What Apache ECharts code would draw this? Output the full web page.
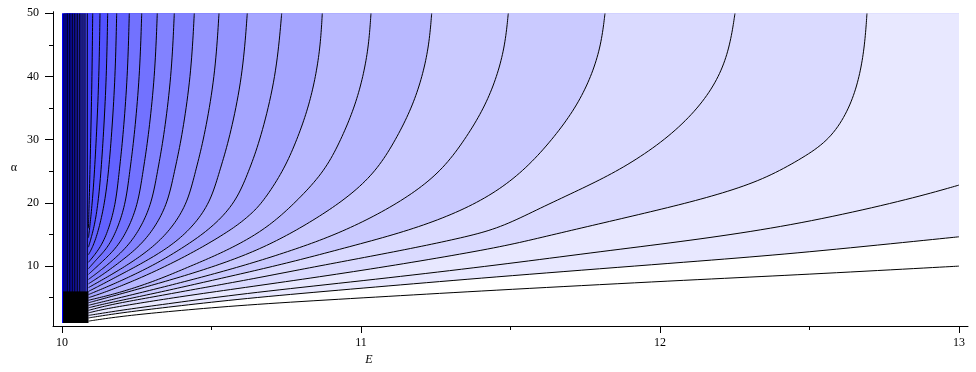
<!DOCTYPE html>
<html><head><meta charset="utf-8">
<script src="https://cdn.jsdelivr.net/npm/echarts@6/dist/echarts.min.js"></script>
<style>html,body{margin:0;padding:0;background:#fff}#c{width:976px;height:372px}</style>
</head><body><div id="c"></div>
<script>
// ---- tick labels ----
const xTicks = [10, 11, 12, 13];
const yTicks = [10, 20, 30, 40, 50];
const yMinorTicks = [5, 15, 25, 35, 45];

// ---- contour lines: [E, alpha] ----
// nearly vertical contours hugging E = 10 (E where they meet the top edge)
const stripTops = [10.0067, 10.0134, 10.0191, 10.0244, 10.0301, 10.0358, 10.0411,
                   10.0468, 10.0525, 10.0579, 10.0635, 10.0702, 10.0769, 10.0846];
const c15 = [[10.1027,50],[10.1005,40],[10.0960,30],[10.0920,22],[10.0886,16]];
const c16 = [[10.1271,50],[10.1239,40],[10.1148,30],[10.1050,22],[10.0950,17],[10.0886,14.5]];
const c17 = [[10.1528,50],[10.1490,40],[10.1380,30],[10.1260,22],[10.1120,17],[10.0960,14.2],[10.0886,13]];
const c18 = [[10.1829,50],[10.1783,40],[10.1652,30],[10.1500,22],[10.1300,17],[10.1080,13.5],[10.0886,11.8]];
const c19 = [[10.2251,50],[10.2195,40],[10.2033,30],[10.1913,25],[10.1801,20],[10.1576,16],[10.1306,13],[10.0886,10.6]];
const c20 = [[10.2666,50],[10.2600,40],[10.2407,30],[10.2266,25],[10.2133,20],[10.1866,16],[10.1546,13],[10.1180,11.2],[10.0886,9.6]];
const c21 = [[10.3187,50],[10.3107,40],[10.2878,30],[10.2709,25],[10.2550,20],[10.2231,16],[10.1848,13],[10.1350,10.7],[10.0886,8.7]];
const c22 = [[10.3756,50],[10.3662,40],[10.3392,30],[10.3193,25],[10.3005,20],[10.2629,16],[10.2178,13],[10.1600,10.5],[10.1200,9],[10.0886,7.9]];
const c23 = [[10.4425,50],[10.4314,40],[10.3996,30],[10.3761,25],[10.3540,20],[10.3098,16],[10.2567,13],[10.1900,10.5],[10.1350,8.6],[10.0886,7.2]];
const c24 = [[10.5251,50],[10.5120,40],[10.4742,30],[10.4463,25],[10.4201,20],[10.3676,16],[10.3046,13],[10.2300,10.5],[10.1600,8.5],[10.0886,6.6]];
const c25 = [[10.6197,50],[10.6042,40],[10.5596,30],[10.5267,25],[10.4958,20],[10.4338,16],[10.3594,13],[10.2700,10.5],[10.1900,8.5],[10.1300,7],[10.0886,6.0]];
const cA = [[10.7348,50],[10.7164,40],[10.6635,30],[10.6246,25],[10.5805,20],[10.4997,16],[10.4078,13],[10.3200,10.5],[10.2350,8.5],[10.1650,7],[10.0886,5.5]];
const cB = [[10.8706,50],[10.8645,45],[10.8488,40],[10.8236,35],[10.7862,30],[10.7400,25],[10.6700,20],[10.6288,18.08],[10.5746,16],[10.4701,13],[10.3700,10.5],[10.2800,8.5],[10.2050,7],[10.1400,5.8],[10.0886,5.0]];
const cC = [[11.0334,50],[11.0262,45],[11.0076,40],[10.9776,35],[10.9332,30],[10.8784,25],[10.7900,20.5],[10.7100,17],[10.6288,14.39],[10.5300,12],[10.4300,10],[10.3300,8],[10.2400,6.5],[10.1600,5.4],[10.0886,4.6]];
const cD = [[11.2365,50],[11.2278,45],[11.2056,40],[11.1697,35],[11.1166,30],[11.0510,25],[10.9600,21],[10.8500,17.5],[10.7400,14.5],[10.6288,12.01],[10.5000,9.8],[10.3700,7.9],[10.2500,6.3],[10.1500,5.0],[10.0886,4.2]];
const cE = [[11.4926,50],[11.4821,45],[11.4553,40],[11.4120,35],[11.3478,30],[11.2687,25],[11.1600,21],[11.0300,17.5],[10.9000,14.7],[10.7700,12.5],[10.6288,10.37],[10.4800,8.4],[10.3400,6.7],[10.2200,5.3],[10.1400,4.4],[10.0886,3.8]];
const cF = [[11.8161,50],[11.8034,45],[11.7707,40],[11.7180,35],[11.6399,30],[11.5437,25],[11.4300,21],[11.2900,17.8],[11.1300,15.2],[10.9400,12.8],[10.7800,10.8],[10.6288,9.1],[10.4700,7.4],[10.3300,5.9],[10.2100,4.7],[10.1300,3.9],[10.0886,3.4]];
const cG = [[12.2508,50],[12.2350,45],[12.2000,40],[12.1300,35],[12.0200,30],[11.8773,25.5],[11.7435,22.35],[11.5987,19.18],[11.4649,16.02],[11.3400,14.5],[11.1700,12.8],[10.9700,11.0],[10.7900,9.4],[10.6288,7.9],[10.4400,6.3],[10.2900,5.0],[10.1600,3.9],[10.0886,3.0]];
const cH = [[12.6923,50],[12.6850,45],[12.6680,40],[12.6350,35],[12.5700,30],[12.4682,26.83],[12.3344,23.41],[12.1562,20.77],[11.9700,18.6],[11.7700,16.4],[11.6000,14.5],[11.4649,13.0],[11.2000,10.8],[10.9200,8.7],[10.6288,6.73],[10.4000,5.2],[10.2400,4.0],[10.1400,3.2],[10.0886,2.6]];
const cR1 = [[13,22.82],[12.8251,20.45],[12.4682,16.65],[12.1338,14.23],[11.8000,12.3],[11.4649,10.21],[11.0500,7.9],[10.6288,5.78],[10.3612,4.1],[10.1940,3.0],[10.0886,2.2]];
const cR2 = [[13,14.64],[12.4682,12.06],[12.1338,10.8],[11.4649,8.37],[11.0500,6.7],[10.6288,4.99],[10.3612,3.55],[10.1940,2.6],[10.0886,1.8]];
const cR3 = [[13,10.0],[12.4682,8.63],[12.1338,7.9],[11.4649,6.25],[11.0500,5.1],[10.6288,3.94],[10.3612,2.85],[10.1940,2.05],[10.0886,1.3]];
// solid black cluster of contours at the bottom-left corner
const denseBlock = [[10.0037,6.0],[10.0886,6.0],[10.0886,1],[10.0037,1]];

// ---- styles ----
const shade = [0, 6,6, 14,14, 24,24, 34,34, 46,46, 56,56, 68,68, 82,82, 98,98, 114,114,
               130,130, 148,148, 165,165, 184,184, 202,202, 218,218, 232,232, 255,255];
const bandColor = k => 'rgb(' + shade[k] + ',' + shade[k] + ',255)';

const X0 = 10, X1 = 13, Y0 = 1, Y1 = 50;
const curved = [c15,c16,c17,c18,c19,c20,c21,c22,c23,c24,c25,cA,cB,cC,cD,cE,cF,cG,cH,cR1,cR2,cR3];
const contours = stripTops.map(e => [[e, Y1], [e, Y0]]).concat(curved);

// rendering helper: smooth (clamped cubic B-spline) drawing path through the pixel points
function smoothPath(px) {
  if (px.length < 3) return px.slice();
  const n = px.length;
  const P = [px[0], px[0]].concat(px, [px[n - 1], px[n - 1]]);
  const out = [];
  const N = 10;
  for (let i = 0; i + 3 < P.length; i++) {
    for (let j = (i === 0 ? 0 : 1); j <= N; j++) {
      const t = j / N, t2 = t * t, t3 = t2 * t;
      const b0 = (1 - t) * (1 - t) * (1 - t) / 6;
      const b1 = (3 * t3 - 6 * t2 + 4) / 6;
      const b2 = (-3 * t3 + 3 * t2 + 3 * t + 1) / 6;
      const b3 = t3 / 6;
      out.push([
        b0 * P[i][0] + b1 * P[i + 1][0] + b2 * P[i + 2][0] + b3 * P[i + 3][0],
        b0 * P[i][1] + b1 * P[i + 1][1] + b2 * P[i + 2][1] + b3 * P[i + 3][1]
      ]);
    }
  }
  return out;
}
function closing(c) {
  const out = [];
  const last = c[c.length - 1];
  if (last[1] > Y0) out.push([last[0], Y0]);
  out.push([X1, Y0]);
  if (c[0][1] === Y1) out.push([X1, Y1]);
  return out;
}

const series = [
  { // filled bands
    type: 'custom', coordinateSystem: 'cartesian2d', xAxisIndex: 0, yAxisIndex: 0,
    data: contours.map(c => [c[0][0], c[0][1]]), encode: { x: 0, y: 1 },
    silent: true, animation: false, z: 1, clip: true,
    renderItem: function (params, api) {
      const c = contours[params.dataIndex];
      const pts = smoothPath(c.map(p => api.coord(p))).concat(closing(c).map(p => api.coord(p)));
      return { type: 'polygon', shape: { points: pts }, style: { fill: bandColor(params.dataIndex + 1) } };
    }
  },
  { // contour lines
    type: 'custom', coordinateSystem: 'cartesian2d', xAxisIndex: 0, yAxisIndex: 0,
    data: contours.map(c => [c[0][0], c[0][1]]), encode: { x: 0, y: 1 },
    silent: true, animation: false, z: 3, clip: true,
    renderItem: function (params, api) {
      const c = contours[params.dataIndex];
      return { type: 'polyline', shape: { points: smoothPath(c.map(p => api.coord(p))) },
               style: { stroke: '#000', lineWidth: 1, fill: null } };
    }
  },
  { // dense cluster
    type: 'custom', coordinateSystem: 'cartesian2d', xAxisIndex: 0, yAxisIndex: 0,
    data: [denseBlock[0]], encode: { x: 0, y: 1 }, silent: true, animation: false, z: 4,
    renderItem: function (params, api) {
      return { type: 'polygon', shape: { points: denseBlock.map(p => api.coord(p)) }, style: { fill: '#000' } };
    }
  }
];

const font = 'Liberation Serif';
const chart = echarts.init(document.getElementById('c'), null, { renderer: 'canvas' });
chart.setOption({
  animation: false,
  backgroundColor: '#fff',
  grid: [
    { left: 62, top: 13.3, width: 897, height: 309.7, show: true, backgroundColor: '#0000ff', borderWidth: 0 },
    { left: 53, top: 11.7, width: 915, height: 314.3, show: false }
  ],
  xAxis: [
    { gridIndex: 0, type: 'value', position: 'bottom', min: X0, max: X1, interval: 1, offset: 3,
      axisLine: { show: false },
      axisTick: { show: true, length: 7, lineStyle: { color: '#000' } },
      minorTick: { show: true, splitNumber: 2, length: 4, lineStyle: { color: '#000' } },
      splitLine: { show: false }, minorSplitLine: { show: false },
      axisLabel: { color: '#000', fontFamily: font, fontSize: 12, margin: 11, customValues: xTicks },
      name: 'E', nameLocation: 'middle', nameGap: 31,
      nameTextStyle: { color: '#000', fontFamily: font, fontStyle: 'italic', fontSize: 12,
                       align: 'center', verticalAlign: 'middle', padding: [0, 283, 0, 0] } },
    { gridIndex: 1, type: 'value', position: 'bottom', min: 0, max: 1,
      axisLine: { show: true, onZero: false, lineStyle: { color: '#000', width: 1 } },
      axisTick: { show: false }, axisLabel: { show: false }, splitLine: { show: false } }
  ],
  yAxis: [
    { gridIndex: 0, type: 'value', position: 'left', min: Y0, max: Y1, offset: 9,
      axisLine: { show: false },
      axisTick: { show: true, length: 8, customValues: yTicks, lineStyle: { color: '#000' } },
      axisLabel: { customValues: yTicks, color: '#000', fontFamily: font, fontSize: 12, margin: 14 },
      splitLine: { show: false },
      name: 'α', nameLocation: 'middle', nameRotate: 0, nameGap: 39,
      nameTextStyle: { color: '#000', fontFamily: font, fontSize: 12, align: 'center', verticalAlign: 'middle' } },
    { gridIndex: 0, type: 'value', position: 'left', min: Y0, max: Y1, offset: 9,
      axisLine: { show: false },
      axisTick: { show: true, length: 4, customValues: yMinorTicks, lineStyle: { color: '#000' } },
      axisLabel: { show: false }, splitLine: { show: false } },
    { gridIndex: 1, type: 'value', position: 'left', min: 0, max: 1,
      axisLine: { show: true, onZero: false, lineStyle: { color: '#000', width: 1 } },
      axisTick: { show: false }, axisLabel: { show: false }, splitLine: { show: false } }
  ],
  series: series
});
</script>
</body></html>
